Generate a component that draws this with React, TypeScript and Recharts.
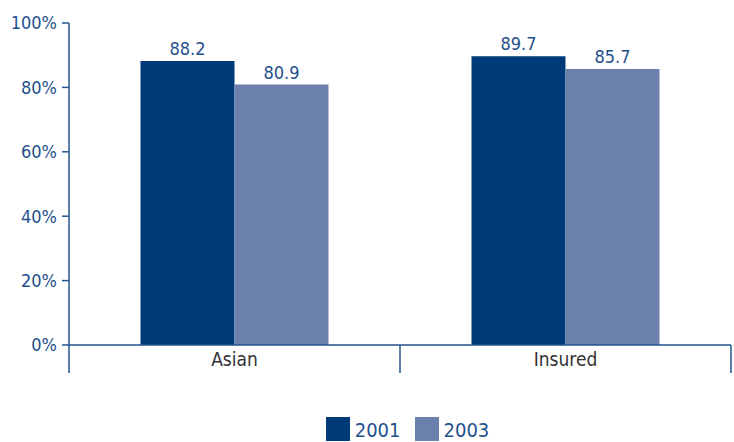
import { BarChart, Bar, XAxis, YAxis, Legend, LabelList } from 'recharts';

const categories = ['Asian', 'Insured'];
const values2001 = [88.2, 89.7];
const values2003 = [80.9, 85.7];
const yTicks = [0, 20, 40, 60, 80, 100];

const data = categories.map((name, i) => ({
  name,
  y2001: values2001[i],
  y2003: values2003[i],
}));

const FONT = "'DejaVu Sans Condensed', 'Liberation Sans Narrow', sans-serif";
const DARK = '#003b79';
const LIGHT = '#6b80ad';
const AXIS = '#24548f';
const TEXT_BLUE = '#1f4f8d';

const W = 734;
const H = 442;
const MARGIN = { top: 23, right: 3, left: 0, bottom: 0 };
const Y_WIDTH = 69;
const BAND = (W - MARGIN.left - MARGIN.right - Y_WIDTH) / categories.length;

function CategoryTick(props: any) {
  const { x, y, payload, index } = props;
  const half = BAND / 2;
  return (
    <g>
      <line x1={x - half} y1={y - 8} x2={x - half} y2={y + 20} stroke={AXIS} strokeWidth={1.5} />
      {index === categories.length - 1 && (
        <line x1={x + half} y1={y - 8} x2={x + half} y2={y + 20} stroke={AXIS} strokeWidth={1.5} />
      )}
      <text x={x} y={y + 13} textAnchor="middle" fill="#333" fontSize={19} fontFamily={FONT}>
        {payload.value}
      </text>
    </g>
  );
}

function LegendContent() {
  const items = [
    { label: '2001', color: DARK },
    { label: '2003', color: LIGHT },
  ];
  return (
    <div style={{ display: 'flex', justifyContent: 'center', gap: 14, fontFamily: FONT, paddingLeft: 84 }}>
      {items.map((it) => (
        <div key={it.label} style={{ display: 'flex', alignItems: 'flex-end', gap: 5 }}>
          <div style={{ width: 24, height: 24, background: it.color }} />
          <span style={{ fontSize: 20, color: TEXT_BLUE, lineHeight: '22px' }}>{it.label}</span>
        </div>
      ))}
    </div>
  );
}

export default function App() {
  return (
    <div style={{ position: 'absolute', left: 0, top: 0, width: W, height: H, background: '#fff' }}>
      <BarChart width={W} height={H} data={data} margin={MARGIN} barGap={0} barCategoryGap="21.6%">
        <XAxis
          dataKey="name"
          height={73}
          axisLine={{ stroke: AXIS, strokeWidth: 1.5 }}
          tickLine={false}
          tick={<CategoryTick />}
          interval={0}
        />
        <YAxis
          width={Y_WIDTH}
          domain={[0, 100]}
          ticks={yTicks}
          tickFormatter={(v: number) => `${v}%`}
          axisLine={{ stroke: AXIS, strokeWidth: 1.5 }}
          tickLine={{ stroke: AXIS, strokeWidth: 1.5 }}
          tickSize={7}
          tickMargin={5}
          tick={{ fill: TEXT_BLUE, fontSize: 18, fontFamily: FONT }}
        />
        <Legend verticalAlign="bottom" wrapperStyle={{ bottom: 1 }} content={<LegendContent />} />
        <Bar dataKey="y2001" fill={DARK} isAnimationActive={false}>
          <LabelList dataKey="y2001" position="top" offset={6} fill={TEXT_BLUE} fontSize={18} fontFamily={FONT} />
        </Bar>
        <Bar dataKey="y2003" fill={LIGHT} isAnimationActive={false}>
          <LabelList dataKey="y2003" position="top" offset={6} fill={TEXT_BLUE} fontSize={18} fontFamily={FONT} />
        </Bar>
      </BarChart>
    </div>
  );
}
